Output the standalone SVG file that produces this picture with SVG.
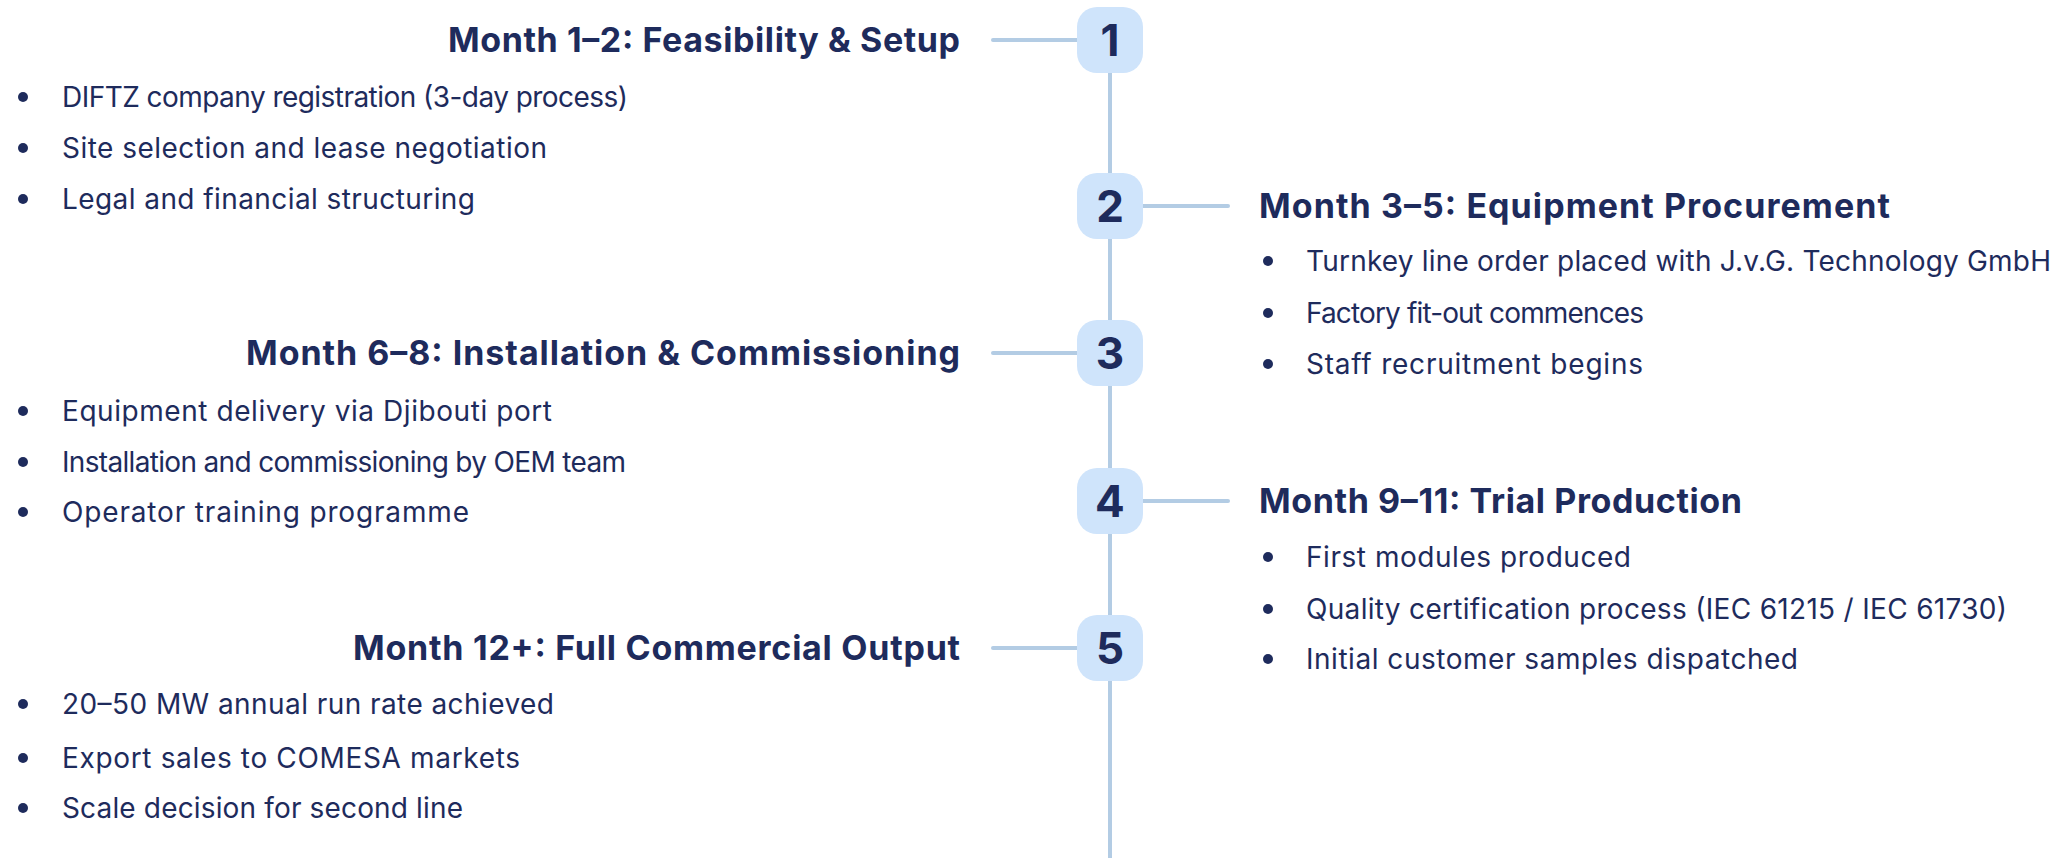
<svg xmlns="http://www.w3.org/2000/svg" width="2070" height="858" viewBox="0 0 2070 858">
<style>
.title{font-family:Inter,"Liberation Sans",sans-serif;font-weight:700;font-size:34px;fill:#1e2b5c}
.item{font-family:Inter,"Liberation Sans",sans-serif;font-weight:400;font-size:28px;fill:#1e2b5c}
.num{font-family:Inter,"Liberation Sans",sans-serif;font-weight:700;font-size:44px;fill:#1e2b5c;text-anchor:middle}
.badge{fill:#cfe4fb}
.dot{fill:#1e2b5c}
.conn{stroke:#b3cce4;stroke-width:4;stroke-linecap:round;fill:none}
.spine{stroke:#b3cce4;stroke-width:4;fill:none}
</style>
<rect width="2070" height="858" fill="#ffffff"/>
<g id="connectors">
<line class="spine" x1="1110" y1="40" x2="1110" y2="858"/>
<line class="conn" x1="993" y1="40" x2="1078" y2="40"/>
<line class="conn" x1="1142" y1="206" x2="1228" y2="206"/>
<line class="conn" x1="993" y1="353" x2="1078" y2="353"/>
<line class="conn" x1="1142" y1="501" x2="1228" y2="501"/>
<line class="conn" x1="993" y1="648" x2="1078" y2="648"/>
</g>
<g id="node1">
<rect class="badge" x="1077" y="7" width="66" height="66" rx="20"/>
<text class="num" x="1110" y="56">1</text>
<text class="title" x="960" y="52" text-anchor="end" textLength="512">Month 1–2: Feasibility &amp; Setup</text>
<circle class="dot" cx="23" cy="97" r="5"/><text class="item" x="62" y="107" textLength="566">DIFTZ company registration (3-day process)</text>
<circle class="dot" cx="23" cy="148" r="5"/><text class="item" x="62" y="158" textLength="485">Site selection and lease negotiation</text>
<circle class="dot" cx="23" cy="199" r="5"/><text class="item" x="62" y="209" textLength="413">Legal and financial structuring</text>
</g>
<g id="node2">
<rect class="badge" x="1077" y="173" width="66" height="66" rx="20"/>
<text class="num" x="1110" y="222">2</text>
<text class="title" x="1259" y="218" textLength="631">Month 3–5: Equipment Procurement</text>
<circle class="dot" cx="1268" cy="261" r="5"/><text class="item" x="1306" y="271" textLength="745">Turnkey line order placed with J.v.G. Technology GmbH</text>
<circle class="dot" cx="1268" cy="313" r="5"/><text class="item" x="1306" y="323" textLength="338">Factory fit-out commences</text>
<circle class="dot" cx="1268" cy="364" r="5"/><text class="item" x="1306" y="374" textLength="337">Staff recruitment begins</text>
</g>
<g id="node3">
<rect class="badge" x="1077" y="320" width="66" height="66" rx="20"/>
<text class="num" x="1110" y="369">3</text>
<text class="title" x="960" y="365" text-anchor="end" textLength="714">Month 6–8: Installation &amp; Commissioning</text>
<circle class="dot" cx="23" cy="411" r="5"/><text class="item" x="62" y="421" textLength="490">Equipment delivery via Djibouti port</text>
<circle class="dot" cx="23" cy="462" r="5"/><text class="item" x="62" y="472" textLength="564">Installation and commissioning by OEM team</text>
<circle class="dot" cx="23" cy="512" r="5"/><text class="item" x="62" y="522" textLength="407">Operator training programme</text>
</g>
<g id="node4">
<rect class="badge" x="1077" y="468" width="66" height="66" rx="20"/>
<text class="num" x="1110" y="517">4</text>
<text class="title" x="1259" y="513" textLength="483">Month 9–11: Trial Production</text>
<circle class="dot" cx="1268" cy="557" r="5"/><text class="item" x="1306" y="567" textLength="325">First modules produced</text>
<circle class="dot" cx="1268" cy="609" r="5"/><text class="item" x="1306" y="619" textLength="701">Quality certification process (IEC 61215 / IEC 61730)</text>
<circle class="dot" cx="1268" cy="659" r="5"/><text class="item" x="1306" y="669" textLength="492">Initial customer samples dispatched</text>
</g>
<g id="node5">
<rect class="badge" x="1077" y="615" width="66" height="66" rx="20"/>
<text class="num" x="1110" y="664">5</text>
<text class="title" x="960" y="660" text-anchor="end" textLength="607">Month 12+: Full Commercial Output</text>
<circle class="dot" cx="23" cy="704" r="5"/><text class="item" x="62" y="714" textLength="492">20–50 MW annual run rate achieved</text>
<circle class="dot" cx="23" cy="758" r="5"/><text class="item" x="62" y="768" textLength="458">Export sales to COMESA markets</text>
<circle class="dot" cx="23" cy="808" r="5"/><text class="item" x="62" y="818" textLength="401">Scale decision for second line</text>
</g>
</svg>
